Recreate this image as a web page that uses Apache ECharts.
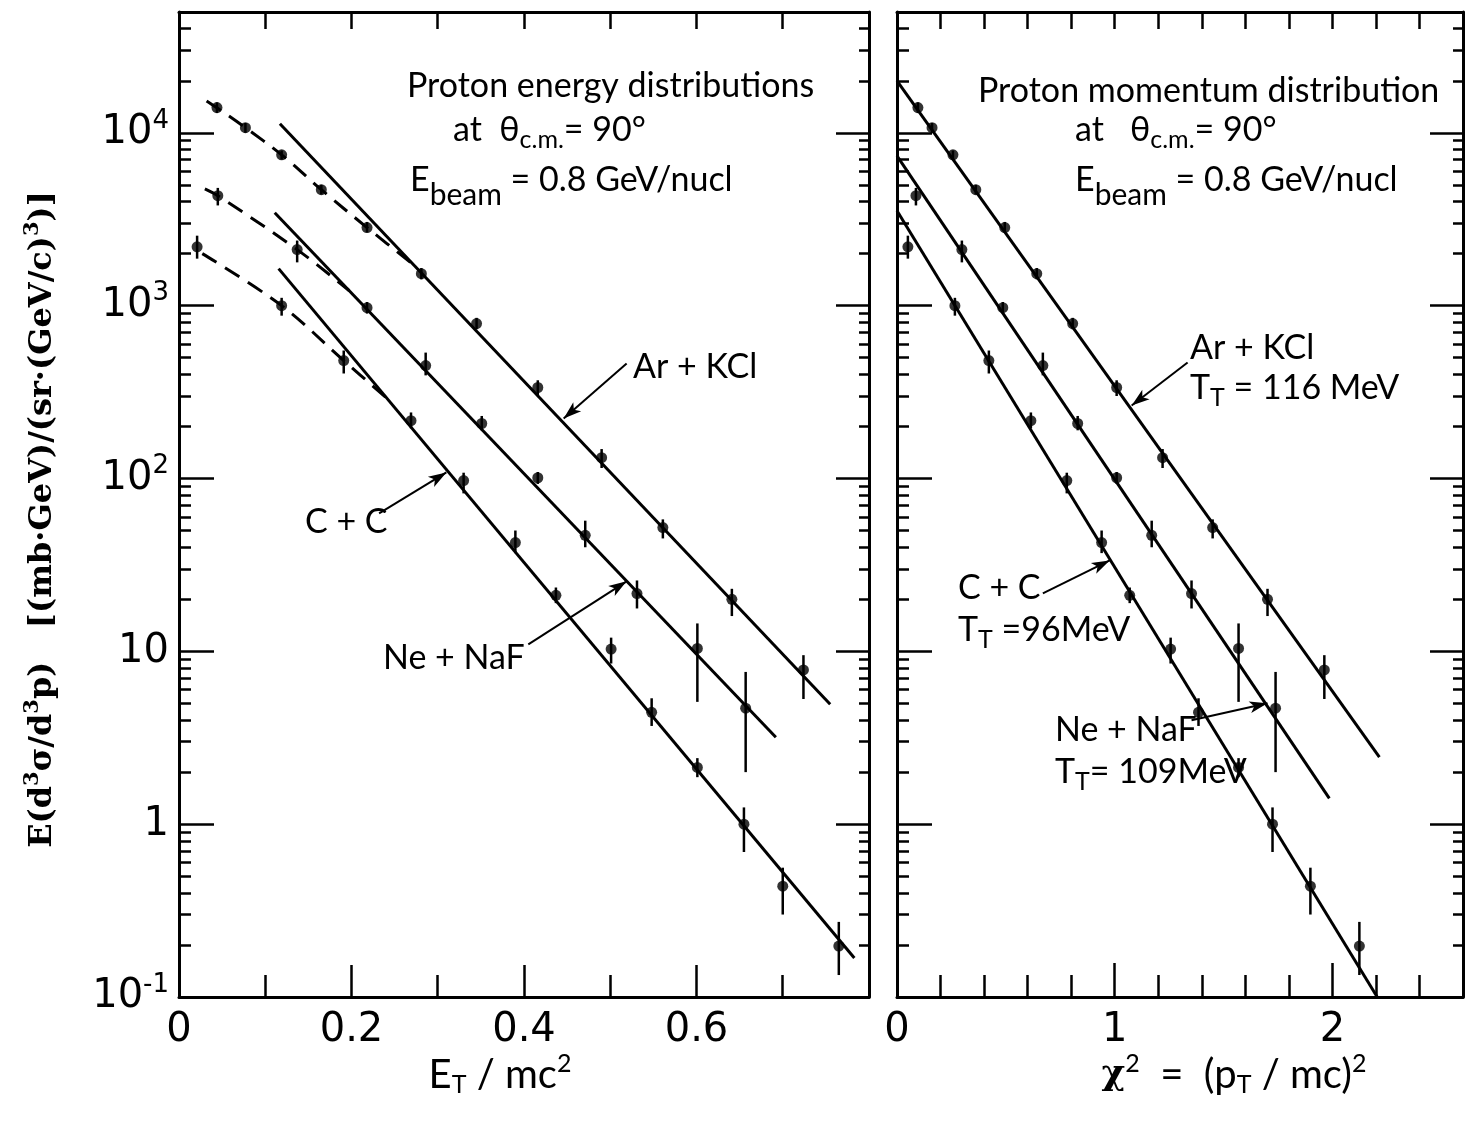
<!DOCTYPE html>
<html>
<head>
<meta charset="utf-8">
<script src="https://cdn.jsdelivr.net/npm/echarts@6.0.0/dist/echarts.min.js"></script>
<style>
html,body{margin:0;padding:0;background:#ffffff;}
#chart{width:1469px;height:1123px;}
</style>
</head>
<body>
<div id="chart"></div>
<script>
// ---------- tick labels ----------
const yMajorExp = [-1, 0, 1, 2, 3, 4];
const yMajorLabels = ['10{s|-1}', '1', '10', '10{s|2}', '10{s|3}', '10{s|4}'];
const yMinorMult = [2, 3, 4, 5, 6, 7, 8, 9];
const xLeftLabels = [0, 0.2, 0.4, 0.6];
const xRightLabels = [0, 1, 2];
const yTop = 50000;

// ---------- Ar + KCl ----------
const arET  = [0.044, 0.077, 0.119, 0.165, 0.218, 0.281, 0.345, 0.416, 0.490, 0.561, 0.641, 0.724];
const arX2  = [0.096, 0.161, 0.257, 0.362, 0.495, 0.642, 0.807, 1.009, 1.220, 1.450, 1.702, 1.963];
const arY   = [14000, 10700, 7460, 4690, 2830, 1530, 788, 336, 132, 52, 20, 7.8];
const arLo  = [13000, 10000, 7000, 4400, 2650, 1420, 730, 300, 115, 45, 16, 5.3];
const arHi  = [15000, 11400, 7900, 5000, 3050, 1650, 850, 370, 148, 58, 23, 9.5];
const arFitET = [0.117, 0.755],  arFitY  = [11270, 4.94];
const arFitX2 = [0, 2.216],      arFitY2 = [19950, 2.44];
const arDashET = [0.032, 0.044, 0.077, 0.119, 0.165, 0.218, 0.276];
const arDashY  = [15300, 13960, 10700, 7460, 4690, 2830, 1660];

// ---------- Ne + NaF ----------
const neET  = [0.045, 0.137, 0.218, 0.286, 0.351, 0.416, 0.471, 0.531, 0.601, 0.657];
const neX2  = [0.087, 0.298, 0.486, 0.670, 0.830, 1.009, 1.170, 1.353, 1.569, 1.739];
const neY   = [4330, 2110, 973, 450, 208, 101, 46.9, 21.6, 10.4, 4.69];
const neLo  = [3800, 1780, 900, 395, 190, 93, 40, 17.7, 5.1, 2.0];
const neHi  = [4800, 2380, 1050, 535, 230, 109, 57, 25.7, 14.5, 7.6];
const neFitET = [0.111, 0.692],  neFitY  = [3450, 3.18];
const neFitX2 = [0, 1.986],      neFitY2 = [7360, 1.41];
const neDashET = [0.030, 0.045, 0.137, 0.1975];
const neDashY  = [4740, 4330, 2110, 1220];

// ---------- C + C ----------
const ccET  = [0.021, 0.119, 0.191, 0.269, 0.330, 0.390, 0.437, 0.501, 0.548, 0.601, 0.655, 0.700, 0.765];
const ccX2  = [0.050, 0.266, 0.422, 0.615, 0.780, 0.940, 1.069, 1.257, 1.385, 1.569, 1.725, 1.899, 2.124];
const ccY   = [2190, 1000, 481, 216, 97.3, 42.6, 21.1, 10.3, 4.44, 2.13, 1.0, 0.438, 0.197];
const ccLo  = [1870, 875, 405, 195, 82, 37, 19, 8.5, 3.7, 1.87, 0.69, 0.30, 0.134];
const ccHi  = [2540, 1110, 550, 241, 108, 50, 23.4, 12, 5.35, 2.41, 1.25, 0.56, 0.272];
const ccFitET = [0.1155, 0.783], ccFitY  = [1637, 0.168];
const ccFitX2 = [0, 2.206],      ccFitY2 = [3540, 0.1];
const ccDashET = [0.027, 0.119, 0.191, 0.240];
const ccDashY  = [2000, 1000, 481, 294];

// ---------- helpers ----------
const L = v => Math.log10(v);
const LMAX = L(yTop);
const pts = (xs, ys) => xs.map((x, i) => [x, L(ys[i])]);
const bars = (xs, lo, hi) => xs.map((x, i) => [x, L(lo[i]), L(hi[i])]);
const yMinor = [];
yMajorExp.forEach(e => yMinorMult.forEach(m => { const v = L(m) + e; if (v < LMAX) yMinor.push(v); }));

const SANS = 'Lato';
const TICKF = 'DejaVu Sans';
const BLACK = '#000';

const axisLine = {show: true, onZero: false, lineStyle: {color: BLACK, width: 3}};
const noLine = {show: false, onZero: false};
const tickLS = {color: BLACK, width: 2.5};

function yAxisSet(grid, withLabels) {
  const base = {gridIndex: grid, type: 'value', min: -1, max: LMAX, splitLine: {show: false}};
  const major = Object.assign({}, base, {
    position: 'left', axisLine: axisLine,
    axisTick: {show: true, inside: true, length: 35, lineStyle: tickLS, customValues: yMajorExp},
    axisLabel: withLabels ? {
      show: true, customValues: yMajorExp, margin: 10, color: BLACK,
      fontFamily: TICKF, fontSize: 40,
      formatter: v => yMajorLabels[yMajorExp.indexOf(Math.round(v))],
      rich: {s: {fontFamily: TICKF, fontSize: 26, color: BLACK, padding: [0, 0, 24, 0]}}
    } : {show: false}
  });
  if (withLabels) {
    Object.assign(major, {
      name: 'E(d{u|3}σ/d{u|3}p)   [(mb·GeV)/(sr·(GeV/c){u|3})]',
      nameLocation: 'middle', nameRotate: 90, nameGap: 116,
      nameTextStyle: {fontFamily: 'DejaVu Serif', fontWeight: 'bold', fontSize: 32, color: BLACK,
        padding: [0, 30, 0, 0],
        rich: {u: {fontFamily: 'DejaVu Serif', fontWeight: 'bold', fontSize: 21, color: BLACK, padding: [0, 0, 20, 0]}}}
    });
  }
  const minor = Object.assign({}, base, {
    position: 'left', axisLine: noLine,
    axisTick: {show: true, inside: true, length: 12, lineStyle: tickLS, customValues: yMinor},
    axisLabel: {show: false}
  });
  const rMajor = Object.assign({}, base, {
    position: 'right', axisLine: axisLine,
    axisTick: {show: true, inside: true, length: 33, lineStyle: tickLS, customValues: yMajorExp},
    axisLabel: {show: false}
  });
  const rMinor = Object.assign({}, base, {
    position: 'right', axisLine: noLine,
    axisTick: {show: true, inside: true, length: 10, lineStyle: tickLS, customValues: yMinor},
    axisLabel: {show: false}
  });
  return [major, minor, rMajor, rMinor];
}

const xAxes = [
  // 0: left bottom
  {gridIndex: 0, type: 'value', position: 'bottom', min: 0, max: 0.8, interval: 0.2,
   axisLine: axisLine, splitLine: {show: false},
   axisTick: {show: true, inside: true, length: 32, lineStyle: tickLS},
   minorTick: {show: true, splitNumber: 2, length: 22, lineStyle: tickLS},
   axisLabel: {show: true, customValues: xLeftLabels, margin: 14, color: BLACK, fontFamily: TICKF, fontSize: 40,
     formatter: v => (Math.abs(v) < 1e-9 ? '0' : v.toFixed(1))}},
  // 1: left top
  {gridIndex: 0, type: 'value', position: 'top', min: 0, max: 0.8, interval: 0.1,
   axisLine: axisLine, splitLine: {show: false},
   axisTick: {show: true, inside: true, length: 17, lineStyle: tickLS}, axisLabel: {show: false}},
  // 2: right bottom
  {gridIndex: 1, type: 'value', position: 'bottom', min: 0, max: 2.6, interval: 0.2,
   axisLine: axisLine, splitLine: {show: false},
   axisTick: {show: true, inside: true, length: 22, lineStyle: tickLS},
   axisLabel: {show: true, customValues: xRightLabels, margin: 14, color: BLACK, fontFamily: TICKF, fontSize: 40,
     formatter: v => String(Math.round(v))}},
  // 3: right top
  {gridIndex: 1, type: 'value', position: 'top', min: 0, max: 2.6, interval: 0.2,
   axisLine: axisLine, splitLine: {show: false},
   axisTick: {show: true, inside: true, length: 17, lineStyle: tickLS}, axisLabel: {show: false}},
  // 4: right bottom long ticks at labelled values
  {gridIndex: 1, type: 'value', position: 'bottom', min: 0, max: 2.6,
   axisLine: noLine, splitLine: {show: false},
   axisTick: {show: true, inside: true, length: 34, lineStyle: tickLS, customValues: [1, 2]}, axisLabel: {show: false}}
];

const yAxes = yAxisSet(0, true).concat(yAxisSet(1, false)); // 0..3 left grid, 4..7 right grid

function arrow(from, to) {
  return {silent: true, animation: false, symbol: ['none', 'arrow'], symbolSize: [9, 18],
    lineStyle: {color: BLACK, width: 2, type: 'solid'}, label: {show: false},
    data: [[{coord: from}, {coord: to}]]};
}
function fit(xi, yi, xs, ys, ma) {
  const s = {type: 'line', xAxisIndex: xi, yAxisIndex: yi, data: pts(xs, ys), symbol: 'none',
    lineStyle: {color: BLACK, width: 3}, silent: true, z: 3};
  if (ma) s.markLine = ma;
  return s;
}
function dash(xi, yi, xs, ys) {
  return {type: 'line', xAxisIndex: xi, yAxisIndex: yi, data: pts(xs, ys), symbol: 'none', smooth: 0.35,
    lineStyle: {color: BLACK, width: 3, type: [17, 10]}, silent: true, z: 3};
}
function dots(xi, yi, xs, ys) {
  return {type: 'scatter', xAxisIndex: xi, yAxisIndex: yi, data: pts(xs, ys), symbol: 'circle', symbolSize: 11,
    itemStyle: {color: BLACK}, silent: true, z: 5};
}
function errs(xi, yi, xs, lo, hi) {
  return {type: 'custom', xAxisIndex: xi, yAxisIndex: yi, data: bars(xs, lo, hi), silent: true, z: 4,
    encode: {x: 0, y: [1, 2]},
    renderItem: (params, api) => {
      const a = api.coord([api.value(0), api.value(1)]);
      const b = api.coord([api.value(0), api.value(2)]);
      return {type: 'line', shape: {x1: a[0], y1: a[1], x2: b[0], y2: b[1]}, style: {stroke: BLACK, lineWidth: 2.5}};
    }};
}

const series = [
  // left panel
  fit(0, 0, arFitET, arFitY, arrow([0.519, 2.665], [0.446, 2.347])),
  fit(0, 0, neFitET, neFitY, arrow([0.405, 1.040], [0.519, 1.405])),
  fit(0, 0, ccFitET, ccFitY, arrow([0.232, 1.798], [0.310, 2.035])),
  dash(0, 0, arDashET, arDashY), dash(0, 0, neDashET, neDashY), dash(0, 0, ccDashET, ccDashY),
  errs(0, 0, arET, arLo, arHi), errs(0, 0, neET, neLo, neHi), errs(0, 0, ccET, ccLo, ccHi),
  dots(0, 0, arET, arY), dots(0, 0, neET, neY), dots(0, 0, ccET, ccY),
  // right panel
  fit(2, 4, arFitX2, arFitY2, arrow([1.335, 2.671], [1.078, 2.422])),
  fit(2, 4, neFitX2, neFitY2, arrow([1.353, 0.601], [1.702, 0.699])),
  fit(2, 4, ccFitX2, ccFitY2, arrow([0.670, 1.335], [0.977, 1.526])),
  errs(2, 4, arX2, arLo, arHi), errs(2, 4, neX2, neLo, neHi), errs(2, 4, ccX2, ccLo, ccHi),
  dots(2, 4, arX2, arY), dots(2, 4, neX2, neY), dots(2, 4, ccX2, ccY)
];

// ---------- text annotations ----------
const richBase = {
  sub:  {fontFamily: SANS, fontSize: 25, fill: BLACK, color: BLACK, padding: [20, 0, 0, 0]},
  bsub: {fontFamily: SANS, fontSize: 30, fill: BLACK, color: BLACK, padding: [30, 0, 0, 0]},
  sup:  {fontFamily: SANS, fontSize: 25, fill: BLACK, color: BLACK, padding: [0, 0, 22, 0]},
  chi:  {fontFamily: 'DejaVu Serif', fontWeight: 'bold', fontSize: 36, fill: BLACK, color: BLACK}
};
function txt(x, y, text, size, align) {
  return {type: 'text', x: x, y: y, silent: true, z: 10,
    style: {text: text, fontFamily: SANS, fontSize: size, fill: BLACK, align: align || 'left', verticalAlign: 'middle', rich: richBase}};
}
const graphics = [
  txt(407, 86, 'Proton energy distributions', 34),
  txt(453, 130, 'at  θ{sub|c.m.}= 90°', 34),
  txt(410, 180, 'E{bsub|beam} = 0.8 GeV/nucl', 34),
  txt(978, 91, 'Proton momentum distribution', 34),
  txt(1075, 130, 'at   θ{sub|c.m.}= 90°', 34),
  txt(1075, 180, 'E{bsub|beam} = 0.8 GeV/nucl', 34),
  txt(633, 367, 'Ar + KCl', 34),
  txt(305, 522, 'C + C', 34),
  txt(383, 658, 'Ne + NaF', 34),
  txt(1190, 348, 'Ar + KCl', 34),
  txt(1190, 388, 'T{sub|T} = 116 MeV', 34),
  txt(958, 588, 'C + C', 34),
  txt(958, 630, 'T{sub|T} =96MeV', 34),
  txt(1055, 730, 'Ne + NaF', 34),
  txt(1055, 772, 'T{sub|T}= 109MeV', 34),
  txt(500, 1075, 'E{sub|T} / mc{sup|2}', 40, 'center'),
  txt(1234, 1075, '{chi|χ}{sup|2}  =  (p{sub|T} / mc){sup|2}', 40, 'center')
];

const chart = echarts.init(document.getElementById('chart'), null, {renderer: 'canvas'});
chart.setOption({
  animation: false,
  backgroundColor: '#ffffff',
  grid: [
    {left: 179, top: 12, width: 690, height: 985, containLabel: false},
    {left: 897, top: 12, width: 566, height: 985, containLabel: false}
  ],
  xAxis: xAxes,
  yAxis: yAxes,
  series: series,
  graphic: graphics
});
</script>
</body>
</html>
